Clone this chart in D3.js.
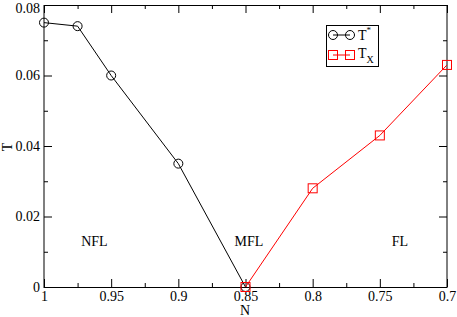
<!DOCTYPE html>
<html><head><meta charset="utf-8">
<script src="https://cdn.jsdelivr.net/npm/d3@7"></script>
<style>body{margin:0;background:#fff}svg{display:block}text{font-family:"Liberation Serif","Times New Roman",serif}</style>
</head><body><svg id="c" width="457" height="317"></svg>
<script>
const tStarN = [1, 0.975, 0.95, 0.9, 0.85];
const tStarT = [0.075, 0.074, 0.06, 0.035, 0.0];
const tXN = [0.85, 0.8, 0.75, 0.7];
const tXT = [0.0, 0.028, 0.043, 0.063];
const xTicks = [1, 0.95, 0.9, 0.85, 0.8, 0.75, 0.7];
const xTickLabels = ["1", "0.95", "0.9", "0.85", "0.8", "0.75", "0.7"];
const xMinor = [0.975, 0.925, 0.875, 0.825, 0.775, 0.725];
const yTicks = [0, 0.02, 0.04, 0.06, 0.08];
const yTickLabels = ["0", "0.02", "0.04", "0.06", "0.08"];
const yMinor = [0.01, 0.03, 0.05, 0.07];
const regionLabels = ["NFL", "MFL", "FL"];
const regionN = [0.9625, 0.8475, 0.735];
const regionT = [0.0117, 0.0117, 0.0117];

const svg = d3.select("#c");
const L = 44, R = 447, T = 5, B = 287;
const x = d3.scaleLinear().domain([1, 0.7]).range([L, R]);
const y = d3.scaleLinear().domain([0, 0.08]).range([B, T]);

function styleAxis(g) {
  g.select(".domain").remove();
  g.selectAll(".tick line").attr("stroke", "#000");
  g.selectAll("text").attr("fill", "#000").style("font-size", "14px").style("font-family", '"Liberation Serif",serif');
}
// bottom
svg.append("g").attr("transform", `translate(0,${B})`)
  .call(d3.axisBottom(x).tickValues(xTicks).tickFormat((d, i) => xTickLabels[i]).tickSizeInner(-8).tickSizeOuter(0).tickPadding(4))
  .call(styleAxis);
svg.append("g").attr("transform", `translate(0,${B})`)
  .call(d3.axisBottom(x).tickValues(xMinor).tickFormat("").tickSizeInner(-4).tickSizeOuter(0)).call(styleAxis);
// top
svg.append("g").attr("transform", `translate(0,${T})`)
  .call(d3.axisTop(x).tickValues(xTicks).tickFormat("").tickSizeInner(-8).tickSizeOuter(0)).call(styleAxis);
svg.append("g").attr("transform", `translate(0,${T})`)
  .call(d3.axisTop(x).tickValues(xMinor).tickFormat("").tickSizeInner(-4).tickSizeOuter(0)).call(styleAxis);
// left
const yAx = svg.append("g").attr("transform", `translate(${L},0)`)
  .call(d3.axisLeft(y).tickValues(yTicks).tickFormat((d, i) => yTickLabels[i]).tickSizeInner(-8).tickSizeOuter(0).tickPadding(4))
  .call(styleAxis);
// keep top label inside the image, as in the reference
yAx.selectAll(".tick text").filter(d => d === 0.08).attr("dy", "0.55em");
svg.append("g").attr("transform", `translate(${L},0)`)
  .call(d3.axisLeft(y).tickValues(yMinor).tickFormat("").tickSizeInner(-4).tickSizeOuter(0)).call(styleAxis);
// right
svg.append("g").attr("transform", `translate(${R},0)`)
  .call(d3.axisRight(y).tickValues(yTicks).tickFormat("").tickSizeInner(-8).tickSizeOuter(0)).call(styleAxis);
svg.append("g").attr("transform", `translate(${R},0)`)
  .call(d3.axisRight(y).tickValues(yMinor).tickFormat("").tickSizeInner(-4).tickSizeOuter(0)).call(styleAxis);

// frame
svg.append("rect").attr("x", L).attr("y", T + 0.5).attr("width", R - L).attr("height", B - T)
  .attr("fill", "none").attr("stroke", "#000").attr("stroke-width", 1);

// axis titles
svg.append("text").attr("x", 245).attr("y", 315).attr("text-anchor", "middle").style("font-size", "14px").text("N");
svg.append("text").attr("transform", "translate(11.5,147) rotate(-90)").attr("text-anchor", "middle").style("font-size", "14px").text("T");

// region labels
regionLabels.forEach((t, i) => {
  svg.append("text").attr("x", x(regionN[i])).attr("y", y(regionT[i])).attr("text-anchor", "middle").style("font-size", "14px").text(t);
});

const line = d3.line().x(d => x(d[0])).y(d => y(d[1]));
const s1 = tStarN.map((n, i) => [n, tStarT[i]]);
const s2 = tXN.map((n, i) => [n, tXT[i]]);
svg.append("path").datum(s1).attr("d", line).attr("fill", "none").attr("stroke", "#000").attr("stroke-width", 1);
svg.selectAll(".c1").data(s1).enter().append("circle")
  .attr("cx", d => x(d[0])).attr("cy", d => y(d[1])).attr("r", 4.5).attr("fill", "none").attr("stroke", "#000");
svg.append("path").datum(s2).attr("d", line).attr("fill", "none").attr("stroke", "#f00").attr("stroke-width", 1);
svg.selectAll(".s2").data(s2).enter().append("rect")
  .attr("x", d => x(d[0]) - 4.5).attr("y", d => y(d[1]) - 4.5).attr("width", 9).attr("height", 9).attr("fill", "none").attr("stroke", "#f00");

// legend
const lg = svg.append("g");
lg.append("rect").attr("x", 326.5).attr("y", 25.5).attr("width", 52).attr("height", 41).attr("fill", "#fff").attr("stroke", "#000");
lg.append("line").attr("x1", 333).attr("x2", 350).attr("y1", 35).attr("y2", 35).attr("stroke", "#000");
lg.append("circle").attr("cx", 333).attr("cy", 35).attr("r", 4.5).attr("fill", "none").attr("stroke", "#000");
lg.append("circle").attr("cx", 350).attr("cy", 35).attr("r", 4.5).attr("fill", "none").attr("stroke", "#000");
lg.append("line").attr("x1", 333).attr("x2", 350).attr("y1", 55).attr("y2", 55).attr("stroke", "#f00");
lg.append("rect").attr("x", 328.5).attr("y", 50.5).attr("width", 9).attr("height", 9).attr("fill", "none").attr("stroke", "#f00");
lg.append("rect").attr("x", 345.5).attr("y", 50.5).attr("width", 9).attr("height", 9).attr("fill", "none").attr("stroke", "#f00");
const t1 = lg.append("text").attr("x", 358).attr("y", 40).style("font-size", "14px");
t1.append("tspan").text("T");
t1.append("tspan").attr("dy", -7).style("font-size", "9px").text("*");
const t2 = lg.append("text").attr("x", 358).attr("y", 58).style("font-size", "14px");
t2.append("tspan").text("T");
t2.append("tspan").attr("dy", 5).style("font-size", "10px").text("X");
</script></body></html>
